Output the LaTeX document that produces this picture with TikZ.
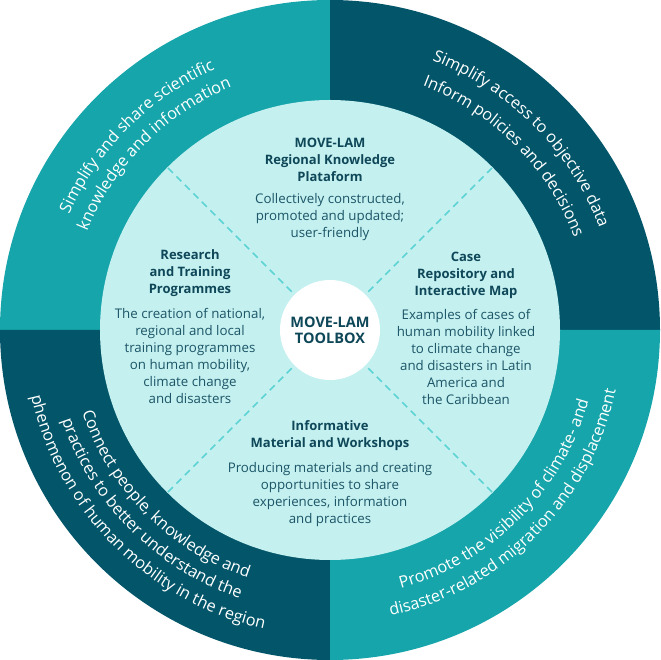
\documentclass[tikz,border=0pt]{standalone}
\usepackage{fontspec}
\setmainfont{Open Sans}
\usetikzlibrary{positioning,decorations.text}
\definecolor{ringlight}{HTML}{16A5AA}
\definecolor{ringdark}{HTML}{03566A}
\definecolor{disc}{HTML}{C4F0F0}
\definecolor{dashcol}{HTML}{5ED3D3}
\definecolor{ink}{HTML}{1B5566}
\definecolor{inkdark}{HTML}{0E4758}

\begin{document}
\begin{tikzpicture}[x=1pt,y=1pt,node distance=170pt,ring line/.style={decorate,decoration={text along path,text color=white,text align=center,text={|\fontsize{16.3}{16.3}\selectfont|#1}}},head/.style={inner sep=0pt,text=inkdark,align=center,font=\bfseries\fontsize{13}{17}\selectfont},body/.style={inner sep=0pt,text=ink,align=center,font=\fontsize{13.3}{17}\selectfont},hub node/.style={circle,fill=white,minimum size=100pt,inner sep=0pt,text=inkdark,align=center,font=\bfseries\fontsize{14.5}{16}\selectfont},divider/.style={dashcol,line width=1.7pt,dash pattern=on 7pt off 5pt,shorten <=4pt}]
            \useasboundingbox (-330,-330) rectangle (330,330);
            \fill[ringlight] (0,0) -- (180:330) arc[start angle=180,end angle=90,radius=330] -- cycle;
            \fill[ringdark] (0,0) -- (90:330) arc[start angle=90,end angle=0,radius=330] -- cycle;
            \fill[ringdark] (0,0) -- (270:330) arc[start angle=270,end angle=180,radius=330] -- cycle;
            \fill[ringlight] (0,0) -- (0:330) arc[start angle=0,end angle=-90,radius=330] -- cycle;
            \fill[disc] (0,0) circle (230);

            \node[hub node] (hub) at (0,0) {MOVE-LAM\\TOOLBOX};

            \foreach \a in {45,135,225,315}
                \path (\a:230) coordinate (rim\a);
            \foreach \a in {45,135,225,315}
                \draw[divider] (hub.\a) -- (rim\a);

            \node[head] (platform) [above of=hub] {MOVE-LAM\\Regional Knowledge\\Plataform};
            \node[body] (platform text) [below=11pt of platform] {Collectively constructed,\\promoted and updated;\\user-friendly};

            \node[head] (research) [left of=hub, xshift=30, yshift=57] {Research\\and Training\\Programmes};
            \node[body] (research text) [below=11pt of research] {The creation of national,\\regional and local\\training programmes\\on human mobility,\\climate change\\and disasters};

            \node[head] (cases) [right of=hub, xshift=-34, yshift=55] {Case\\Repository and\\Interactive Map};
            \node[body] (cases text) [below=11pt of cases] {Examples of cases of\\human mobility linked\\to climate change\\and disasters in Latin\\America and\\the Caribbean};

            \node[head] (workshops) [below of=hub, yshift=64.5] {Informative\\Material and Workshops};
            \node[body] (workshops text) [below=11pt of workshops] {Producing materials and creating\\opportunities to share\\experiences, information\\and practices};

            \path[ring line={Simplify and share scientific}] (180:285) arc[start angle=180,end angle=90,radius=285];
            \path[ring line={knowledge and information}] (180:262) arc[start angle=180,end angle=90,radius=262];

            \path[ring line={Simplify access to objective data}] (90:288) arc[start angle=90,end angle=0,radius=288];
            \path[ring line={Inform policies and decisions}] (90:261) arc[start angle=90,end angle=0,radius=261];

            \path[ring line={Connect people, knowledge and}] (180:261) arc[start angle=180,end angle=270,radius=261];
            \path[ring line={practices to better understand the}] (180:283) arc[start angle=180,end angle=270,radius=283];
            \path[ring line={phenomenon of human mobility in the region}] (180:306) arc[start angle=180,end angle=270,radius=306];

            \path[ring line={Promote the visibility of climate- and}] (270:268) arc[start angle=270,end angle=360,radius=268];
            \path[ring line={disaster-related migration and displacement}] (270:292) arc[start angle=270,end angle=360,radius=292];
        \end{tikzpicture}
\end{document}
